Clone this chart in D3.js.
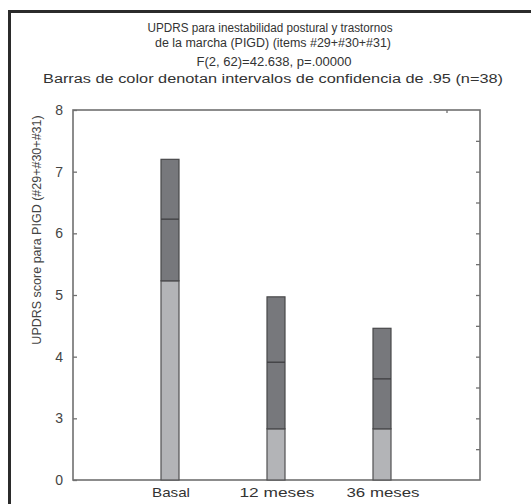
<!DOCTYPE html>
<html>
<head>
<meta charset="utf-8">
<script src="https://cdn.jsdelivr.net/npm/d3@7"></script>
<style>
  body { margin: 0; background: #fff; }
  text { font-family: "Liberation Sans", Arial, sans-serif; }
</style>
</head>
<body>
<div id="chart"></div>
<script>
// groups and the values
const categories = ["Basal", "12 meses", "36 meses"];
const means = [6.23, 3.91, 3.64];
const ciLow = [5.23, 2.83, 2.83];
const ciHigh = [7.20, 4.97, 4.46];

// axis is broken: bottom tick is labelled 0
const tickValues = [2, 3, 4, 5, 6, 7, 8];
const tickLabels = ["0", "3", "4", "5", "6", "7", "8"];

const titleLines = [
  "UPDRS para inestabilidad postural y trastornos",
  "de la marcha (PIGD) (items #29+#30+#31)",
  "F(2, 62)=42.638, p=.00000",
  "Barras de color denotan intervalos de confidencia de .95 (n=38)"
];

const width = 531, height = 504;
const margin = {top: 110, right: 51, bottom: 24, left: 73};
const plotW = width - margin.left - margin.right;
const plotH = height - margin.top - margin.bottom;

const svg = d3.select("#chart").append("svg")
    .attr("width", width)
    .attr("height", height);

// outer frame of the figure (runs off the right/bottom edge)
svg.append("rect")
    .attr("x", 9.5).attr("y", 11.5)
    .attr("width", 600).attr("height", 600)
    .attr("fill", "none")
    .attr("stroke", "#2b2b2b")
    .attr("stroke-width", 3);

// titles - the scan is stretched sideways, so widths are fixed per line
let titleY = [32, 47, 66, 83];
let titleX = [270, 273, 274, 273];
let titleLen = [245, 236, 155, 460];
svg.selectAll(".title")
    .data(titleLines)
    .enter().append("text")
    .attr("class", "title")
    .attr("x", (d, i) => titleX[i] - titleLen[i] / 2)
    .attr("y", (d, i) => titleY[i])
    .attr("textLength", (d, i) => titleLen[i])
    .attr("lengthAdjust", "spacingAndGlyphs")
    .attr("font-size", "12.5px")
    .attr("fill", "#333")
    .text(d => d);

const g = svg.append("g")
    .attr("transform", `translate(${margin.left},${margin.top})`);

const y = d3.scaleLinear()
    .domain([2, 8])
    .range([plotH, 0]);

const x = d3.scalePoint()
    .domain(categories)
    .range([97, 309]);

const barW = 18;

// plot frame
g.append("rect")
    .attr("x", 0).attr("y", 0)
    .attr("width", plotW).attr("height", plotH)
    .attr("fill", "none")
    .attr("stroke", "#707070")
    .attr("stroke-width", 1.6);

// left axis: inward ticks, labels outside
let yAxis = d3.axisLeft(y)
    .tickValues(tickValues)
    .tickSize(-4)
    .tickPadding(10)
    .tickFormat((d, i) => tickLabels[i]);

let yg = g.append("g").call(yAxis);
yg.select(".domain").remove();
yg.selectAll("line").attr("stroke", "#707070").attr("stroke-width", 1.3);
yg.selectAll("text")
    .attr("font-size", "14px")
    .attr("fill", "#444");

// right axis: inward ticks every half unit
let rAxis = d3.axisRight(y)
    .tickValues(d3.range(2.5, 8, 0.5))
    .tickSize(-4)
    .tickFormat("");
let rg = g.append("g")
    .attr("transform", `translate(${plotW},0)`)
    .call(rAxis);
rg.select(".domain").remove();
rg.selectAll("line").attr("stroke", "#707070").attr("stroke-width", 1.3);

// small mark on the top edge
g.append("line")
    .attr("x1", 374).attr("x2", 374)
    .attr("y1", 0).attr("y2", 3)
    .attr("stroke", "#707070")
    .attr("stroke-width", 1.3);

// x labels
let xLabLen = [38, 75, 73];
g.selectAll(".xlab")
    .data(categories)
    .enter().append("text")
    .attr("class", "xlab")
    .attr("x", (d, i) => x(d) + 1 - xLabLen[i] / 2)
    .attr("y", plotH + 17)
    .attr("textLength", (d, i) => xLabLen[i])
    .attr("lengthAdjust", "spacingAndGlyphs")
    .attr("font-size", "13.5px")
    .attr("fill", "#333")
    .text(d => d);

// y axis title
svg.append("text")
    .attr("transform", "translate(41,230) rotate(-90)")
    .attr("text-anchor", "middle")
    .attr("font-size", "12.5px")
    .attr("fill", "#444")
    .text("UPDRS score para PIGD (#29+#30+#31)");

let rows = categories.map((c, i) => ({cat: c, mean: means[i], lo: ciLow[i], hi: ciHigh[i]}));

let bars = g.selectAll(".bar")
    .data(rows)
    .enter().append("g")
    .attr("class", "bar");

// light part: from the base up to the lower limit
bars.append("rect")
    .attr("x", d => x(d.cat) - barW / 2)
    .attr("y", d => y(d.lo))
    .attr("width", barW)
    .attr("height", d => y(2) - y(d.lo))
    .attr("fill", "#b3b4b7")
    .attr("stroke", "#505052")
    .attr("stroke-width", 1.2);

// dark part: confidence interval
bars.append("rect")
    .attr("x", d => x(d.cat) - barW / 2)
    .attr("y", d => y(d.hi))
    .attr("width", barW)
    .attr("height", d => y(d.lo) - y(d.hi))
    .attr("fill", "#77787c")
    .attr("stroke", "#48484a")
    .attr("stroke-width", 1.2);

// mean line
bars.append("line")
    .attr("x1", d => x(d.cat) - barW / 2)
    .attr("x2", d => x(d.cat) + barW / 2)
    .attr("y1", d => y(d.mean))
    .attr("y2", d => y(d.mean))
    .attr("stroke", "#3e3e40")
    .attr("stroke-width", 1.3);
</script>
</body>
</html>
